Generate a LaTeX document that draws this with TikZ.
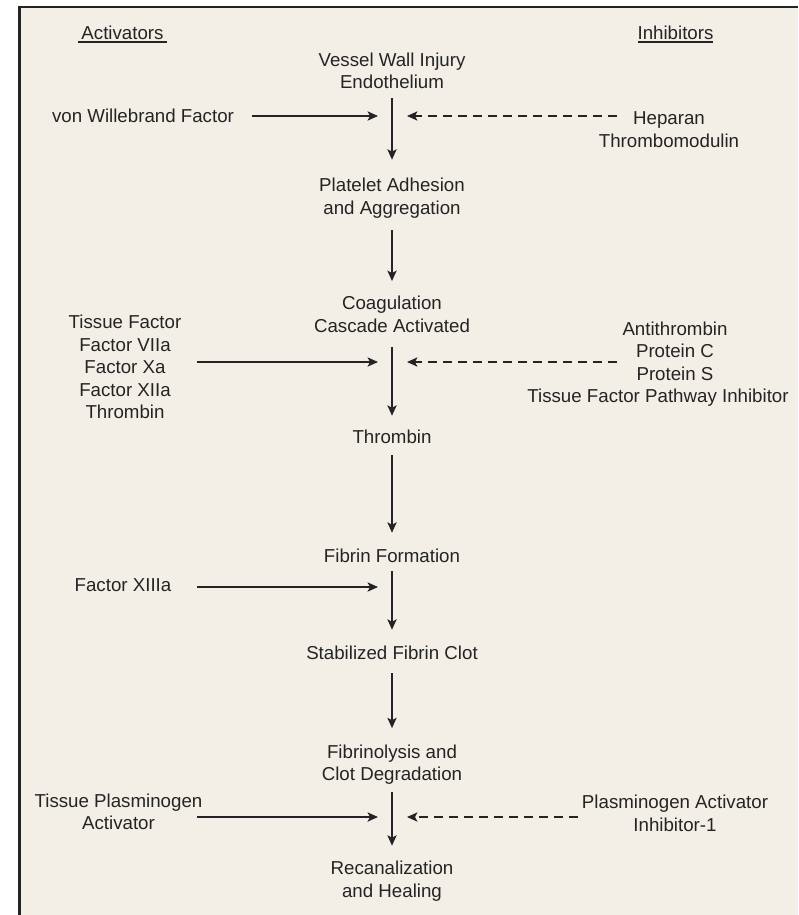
\documentclass[tikz,border=0pt]{standalone}
\usepackage{fontspec}
\setmainfont{Liberation Sans}
\usetikzlibrary{arrows.meta}

\definecolor{paper}{HTML}{F3EFE6}
\definecolor{ink}{HTML}{242424}

\begin{document}
\begin{tikzpicture}[x=0.5pt,y=-0.5pt,
  lbl/.style={inner sep=0pt, align=center, text=ink,
    font=\fontsize{9.35pt}{11.2pt}\selectfont},
  arr/.style={draw=ink, line width=0.85pt,
    -{Stealth[length=5.2pt,width=4.6pt,inset=1.2pt]}},
  inhib/.style={arr, dash pattern=on 4.5pt off 3pt},
  rulebar/.style={draw=ink, line width=0.7pt}]

% page and frame
\useasboundingbox (0,0) rectangle (798,915);
\fill[white] (0,0) rectangle (798,915);
\fill[paper] (19,7) rectangle (798,915);
\draw[ink, line width=1.3pt] (18,7) -- (798,7);
\draw[ink, line width=1.35pt] (19.3,7) -- (19.3,915);

% column headings
\node[lbl] (act) at (122.5,33) {Activators};
\node[lbl] (inh) at (675.5,33) {Inhibitors};
\draw[rulebar] (78,42) -- (167,42);
\draw[rulebar] (638,42) -- (713,42);

% main sequence
\node[lbl] (s1) at (392,71)  {Vessel Wall Injury\\Endothelium};
\node[lbl] (s2) at (392,198) {Platelet Adhesion\\and Aggregation};
\node[lbl] (s3) at (392,314.5) {Coagulation\\Cascade Activated};
\node[lbl] (s4) at (392,437) {Thrombin};
\node[lbl] (s5) at (392,556) {Fibrin Formation};
\node[lbl] (s6) at (392,653) {Stabilized Fibrin Clot};
\node[lbl] (s7) at (392,764.5) {Fibrinolysis and\\Clot Degradation};
\node[lbl] (s8) at (392,881) {Recanalization\\and Healing};

\draw[arr, shorten <=4.5pt, shorten >=9pt] (s1) -- (s2);
\draw[arr, shorten <=6pt, shorten >=7.5pt] (s2) -- (s3);
\draw[arr, shorten <=7pt, shorten >=7pt] (s3) -- (s4);
\draw[arr, shorten <=5.5pt, shorten >=8pt] (s4) -- (s5);
\draw[arr, shorten <=4pt, shorten >=8pt] (s5) -- (s6);
\draw[arr, shorten <=6.5pt, shorten >=8pt] (s6) -- (s7);
\draw[arr, shorten <=3.5pt, shorten >=7.5pt] (s7) -- (s8);

% activators
\node[lbl] (vwf) at (143,116) {von Willebrand Factor};
\node[lbl] (tf)  at (125,367) {Tissue Factor\\Factor VIIa\\Factor Xa\\Factor XIIa\\Thrombin};
\node[lbl] (f13) at (123,585) {Factor XIIIa};
\node[lbl] (tpa) at (118.5,812) {Tissue Plasminogen\\Activator};

% inhibitors
\node[lbl] (hep) at (669,129.5) {Heparan\\Thrombomodulin};
\node[lbl] (atc) at (658,364) {\hspace*{17pt}Antithrombin\\\hspace*{17pt}Protein C\\\hspace*{17pt}Protein S\\Tissue Factor Pathway Inhibitor};
\node[lbl] (pai) at (675,813.5) {Plasminogen Activator\\Inhibitor-1};

% arrow ends beside the main line
\coordinate (ta1) at (252,116);  \coordinate (pa1) at (378,116);
\coordinate (ta2) at (197,362);  \coordinate (pa2) at (378,362);
\coordinate (ta3) at (197,587);  \coordinate (pa3) at (378,587);
\coordinate (ta4) at (197,817);  \coordinate (pa4) at (378,817);
\coordinate (ti1) at (617,116);  \coordinate (pi1) at (407,116);
\coordinate (ti2) at (617,362);  \coordinate (pi2) at (407,362);
\coordinate (ti4) at (578,817);  \coordinate (pi4) at (407,817);

\draw[arr] (ta1) -- (pa1);
\draw[arr] (ta2) -- (pa2);
\draw[arr] (ta3) -- (pa3);
\draw[arr] (ta4) -- (pa4);
\draw[inhib] (ti1) -- (pi1);
\draw[inhib] (ti2) -- (pi2);
\draw[inhib] (ti4) -- (pi4);
\end{tikzpicture}
\end{document}
